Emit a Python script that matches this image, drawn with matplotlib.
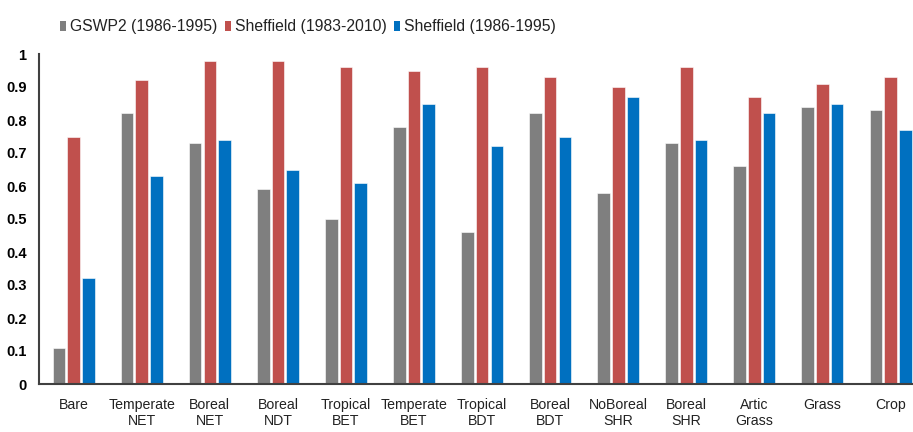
import matplotlib
matplotlib.use("Agg")
import matplotlib.pyplot as plt
import numpy as np
from matplotlib.patches import Patch

plt.rcParams['font.family'] = ['Liberation Sans', 'DejaVu Sans']

categories = ["Bare", "Temperate\nNET", "Boreal\nNET", "Boreal\nNDT", "Tropical\nBET",
              "Temperate\nBET", "Tropical\nBDT", "Boreal\nBDT", "NoBoreal\nSHR",
              "Boreal\nSHR", "Artic\nGrass", "Grass", "Crop"]
gswp2 = [0.11, 0.82, 0.73, 0.59, 0.50, 0.78, 0.46, 0.82, 0.58, 0.73, 0.66, 0.84, 0.83]
sheff_83_10 = [0.75, 0.92, 0.98, 0.98, 0.96, 0.95, 0.96, 0.93, 0.90, 0.96, 0.87, 0.91, 0.93]
sheff_86_95 = [0.32, 0.63, 0.74, 0.65, 0.61, 0.85, 0.72, 0.75, 0.87, 0.74, 0.82, 0.85, 0.77]
series_names = ["GSWP2 (1986-1995)", "Sheffield (1983-2010)", "Sheffield (1986-1995)"]
colors = ["#7f7f7f", "#c0504d", "#0070c0"]
yticks = [0, 0.1, 0.2, 0.3, 0.4, 0.5, 0.6, 0.7, 0.8, 0.9, 1]
ytick_labels = ["0", "0.1", "0.2", "0.3", "0.4", "0.5", "0.6", "0.7", "0.8", "0.9", "1"]

fig = plt.figure(figsize=(9.13, 4.32), dpi=100)
ax = fig.add_axes([39/913, 48/432, 874/913, 330/432])

x = np.arange(len(categories))
pitch = 0.216
width = 0.185
for i, (vals, c) in enumerate(zip([gswp2, sheff_83_10, sheff_86_95], colors)):
    ax.bar(x + (i - 1) * pitch, vals, width=width, color=c, edgecolor='white', linewidth=0.4)

ax.set_xlim(-0.51, 12.33)
ax.set_ylim(0, 1.0)
ax.set_xticks(x)
ax.set_xticklabels(categories, fontsize=10.2, linespacing=1.2, color='#222222')
ax.set_yticks(yticks)
ax.set_yticklabels(ytick_labels, fontsize=10.5, fontweight='bold')
ax.tick_params(axis='both', length=0)
ax.tick_params(axis='x', pad=10)
ax.tick_params(axis='y', pad=9)
for s in ['top', 'right']:
    ax.spines[s].set_visible(False)
for s in ['left', 'bottom']:
    ax.spines[s].set_color('#404040')
    ax.spines[s].set_linewidth(1.5)

handles = [Patch(facecolor=c, edgecolor='none') for c in colors]
fig.legend(handles, series_names, loc='center left', bbox_to_anchor=(60/913, 1 - 27/432),
           ncol=3, frameon=False, fontsize=11.3, handlelength=0.4, handleheight=0.55,
           handletextpad=0.25, columnspacing=0.45, borderaxespad=0, borderpad=0,
           labelcolor='#222222')

fig.savefig("out.png", dpi=100)
